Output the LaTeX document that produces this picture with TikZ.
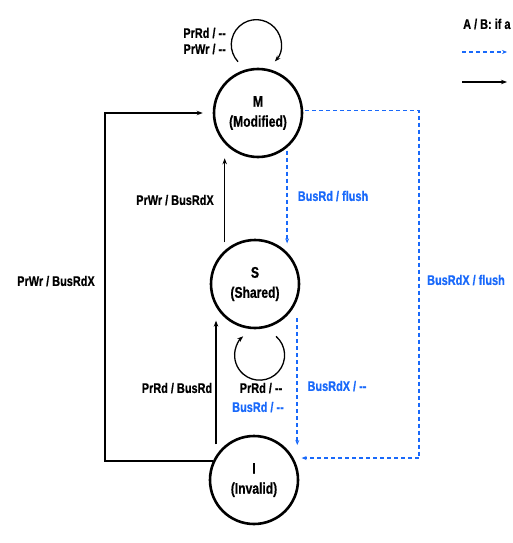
\documentclass[tikz,border=0pt]{standalone}
\usepackage{fontspec}
\setmainfont{Liberation Sans}[FakeStretch=0.78, BoldFeatures={FakeBold=0.6}]
\usetikzlibrary{arrows.meta}
\definecolor{busblue}{RGB}{25,105,250}
\tikzset{
  state/.style={circle, draw=black, line width=2.6pt, minimum size=88pt, inner sep=0pt, align=center, font=\fontsize{15.5}{17}\selectfont\bfseries},
  prline/.style={-{Stealth[length=6pt,width=4.5pt]}, line width=1.3pt},
  busline/.style={-{Stealth[length=5pt,width=4pt]}, busblue, line width=1.6pt, dash pattern=on 4pt off 3pt},
  lbl/.style={font=\fontsize{14}{16}\selectfont\bfseries, inner sep=0pt},
}
\begin{document}
\begin{tikzpicture}[x=1pt, y=1pt]
		\useasboundingbox (0,-543) rectangle (512,0);

		% states
		\node[state] (M) at (258,-113) {M\\[3pt](Modified)};
		\node[state] (S) at (255,-284) {S\\[3pt](Shared)};
		\node[state] (I) at (254,-480) {I\\[3pt](Invalid)};

		% processor side transitions
		\draw[prline] ([xshift=-20pt,yshift=6pt]M.north) arc[start angle=223, end angle=-42, radius=25pt];
		\node[lbl, align=right, anchor=east] (mloop) at (226,-41) {PrRd / -{}-\\PrWr / -{}-};

		\draw[prline, shorten <=8pt] (S.132) -- (S.132 |- M.south);
		\node[lbl] (sm) at (175,-200) {PrWr / BusRdX};

		\draw[prline, shorten <=11pt, shorten >=14pt] (I.147) -- (I.147 |- S.210);
		\node[lbl] (is) at (177,-388) {PrRd / BusRd};

		\draw[prline] (I.155) -- ++(-108,0) |- ([xshift=-10pt]M.west);
		\node[lbl] (im) at (56,-281) {PrWr / BusRdX};

		\draw[prline] ([xshift=21pt,yshift=-7pt]S.south) arc[start angle=49, end angle=-229, radius=25pt];
		\node[lbl] (sloop) at (261,-388) {PrRd / -{}-};
		\node[lbl, text=busblue] (sloopb) at (258,-407) {BusRd / -{}-};

		% bus side transitions
		\draw[busline, shorten <=3pt, shorten >=7pt] (M.-50) -- (M.-50 |- S.48);
		\node[lbl, text=busblue] (ms) at (333,-196) {BusRd / flush};

		\draw[busline, shorten <=18pt, shorten >=21pt] (S.-21) -- (S.-21 |- I.18);
		\node[lbl, text=busblue] (si) at (337,-386) {BusRdX / -{}-};

		\draw[busline, shorten <=2pt, shorten >=8pt] (M.3) -- ++(116,0) |- (I.29);
		\node[lbl, text=busblue] (mi) at (466,-280) {BusRdX / flush};

		% key
		\node[lbl, anchor=west] (key) at (463,-24) {A / B: if a};
		\coordinate (kba) at (462,-52);
		\coordinate (kbb) at (507,-52);
		\coordinate (kpa) at (462,-82);
		\coordinate (kpb) at (507,-82);
		\draw[busline] (kba) -- (kbb);
		\draw[prline] (kpa) -- (kpb);
\end{tikzpicture}
\end{document}
